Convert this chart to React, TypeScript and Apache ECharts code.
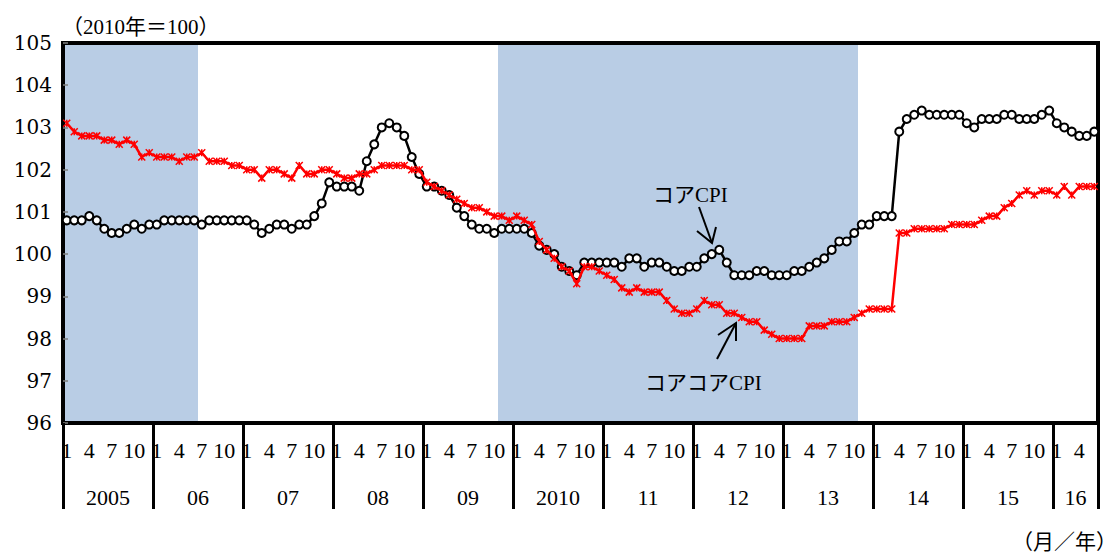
import React, { useEffect, useRef } from "react";
import * as echarts from "echarts";

// ---- data (monthly, Jan 2005 – Jun 2016, 2010 = 100) ----
const startYear = 2005;
const coreCPI: number[] = [
  100.8, 100.8, 100.8, 100.9, 100.8, 100.6, 100.5, 100.5, 100.6, 100.7, 100.6, 100.7,
  100.7, 100.8, 100.8, 100.8, 100.8, 100.8, 100.7, 100.8, 100.8, 100.8, 100.8, 100.8,
  100.8, 100.7, 100.5, 100.6, 100.7, 100.7, 100.6, 100.7, 100.7, 100.9, 101.2, 101.7,
  101.6, 101.6, 101.6, 101.5, 102.2, 102.6, 103.0, 103.1, 103.0, 102.8, 102.3, 101.9,
  101.6, 101.6, 101.5, 101.4, 101.1, 100.9, 100.7, 100.6, 100.6, 100.5, 100.6, 100.6,
  100.6, 100.6, 100.5, 100.2, 100.1, 100.0, 99.7, 99.6, 99.5, 99.8, 99.8, 99.8,
  99.8, 99.8, 99.7, 99.9, 99.9, 99.7, 99.8, 99.8, 99.7, 99.6, 99.6, 99.7,
  99.7, 99.9, 100.0, 100.1, 99.8, 99.5, 99.5, 99.5, 99.6, 99.6, 99.5, 99.5,
  99.5, 99.6, 99.6, 99.7, 99.8, 99.9, 100.1, 100.3, 100.3, 100.5, 100.7, 100.7,
  100.9, 100.9, 100.9, 102.9, 103.2, 103.3, 103.4, 103.3, 103.3, 103.3, 103.3, 103.3,
  103.1, 103.0, 103.2, 103.2, 103.2, 103.3, 103.3, 103.2, 103.2, 103.2, 103.3, 103.4,
  103.1, 103.0, 102.9, 102.8, 102.8, 102.9,
];
const coreCoreCPI: number[] = [
  103.1, 102.9, 102.8, 102.8, 102.8, 102.7, 102.7, 102.6, 102.7, 102.6, 102.3, 102.4,
  102.3, 102.3, 102.3, 102.2, 102.3, 102.3, 102.4, 102.2, 102.2, 102.2, 102.1, 102.1,
  102.0, 102.0, 101.8, 102.0, 102.0, 101.9, 101.8, 102.1, 101.9, 101.9, 102.0, 102.0,
  101.9, 101.8, 101.8, 101.9, 101.9, 102.0, 102.1, 102.1, 102.1, 102.1, 102.0, 102.0,
  101.7, 101.6, 101.5, 101.4, 101.3, 101.2, 101.1, 101.1, 101.0, 100.9, 100.9, 100.8,
  100.9, 100.8, 100.7, 100.3, 100.1, 99.9, 99.7, 99.6, 99.3, 99.7, 99.7, 99.6,
  99.5, 99.4, 99.2, 99.1, 99.2, 99.1, 99.1, 99.1, 98.9, 98.7, 98.6, 98.6,
  98.7, 98.9, 98.8, 98.8, 98.6, 98.6, 98.5, 98.4, 98.4, 98.2, 98.1, 98.0,
  98.0, 98.0, 98.0, 98.3, 98.3, 98.3, 98.4, 98.4, 98.4, 98.5, 98.6, 98.7,
  98.7, 98.7, 98.7, 100.5, 100.5, 100.6, 100.6, 100.6, 100.6, 100.6, 100.7, 100.7,
  100.7, 100.7, 100.8, 100.9, 100.9, 101.1, 101.2, 101.4, 101.5, 101.4, 101.5, 101.5,
  101.4, 101.6, 101.4, 101.6, 101.6, 101.6,
];
const yearLabels: string[] = ["2005", "06", "07", "08", "09", "2010", "11", "12", "13", "14", "15", "16"];
const monthTickLabels: number[] = [1, 4, 7, 10];
const shadedPeriods: [string, string][] = [
  ["2005-01", "2006-06"],
  ["2009-11", "2013-10"],
];
const yTicks = { min: 96, max: 105, step: 1 };

const N = coreCPI.length;
const months: string[] = Array.from({ length: N }, (_, i) => {
  const y = startYear + Math.floor(i / 12);
  const m = (i % 12) + 1;
  return `${y}-${String(m).padStart(2, "0")}`;
});

const NUM_FONT = '"Liberation Serif", "Noto Sans CJK JP", serif';

export default function App() {
  const ref = useRef<HTMLDivElement>(null);
  useEffect(() => {
    if (!ref.current) return;
    const chart = echarts.init(ref.current, undefined, { renderer: "svg" });
    const shadeData = shadedPeriods.map(([a, b]) => [
      { xAxis: months.indexOf(a) },
      { xAxis: months.indexOf(b) + 1 },
    ]);
    const yearCenter = (k: number) => (12 * k + Math.min(12 * k + 12, N)) / 2;
    const option: any = {
      animation: false,
      backgroundColor: "#ffffff",
      grid: {
        left: 63,
        right: 21,
        top: 43,
        bottom: 130,
        show: true,
        borderColor: "#000",
        borderWidth: 4,
        backgroundColor: "transparent",
      },
      xAxis: [
        {
          type: "category",
          data: months,
          boundaryGap: true,
          position: "bottom",
          axisLine: { show: false },
          axisTick: { show: false },
          splitLine: { show: false },
          axisLabel: {
            interval: 0,
            margin: 16,
            color: "#000",
            fontFamily: NUM_FONT,
            fontSize: 22,
            formatter: (v: string) => {
              const m = parseInt(v.slice(5), 10);
              return monthTickLabels.includes(m) ? String(m) : "";
            },
          },
        },
        {
          type: "value",
          min: 0,
          max: N,
          interval: 12,
          position: "bottom",
          axisLine: { show: false },
          axisTick: { show: true, length: 86, lineStyle: { color: "#000", width: 3 } },
          axisLabel: { show: false },
          splitLine: { show: false },
        },
        {
          type: "value",
          min: 0,
          max: N,
          interval: 3,
          position: "bottom",
          axisLine: { show: false },
          axisTick: { show: false },
          splitLine: { show: false },
          axisLabel: {
            margin: 63,
            color: "#000",
            fontFamily: NUM_FONT,
            fontSize: 22,
            formatter: (v: number) => {
              for (let k = 0; k < yearLabels.length; k++) {
                if (Math.abs(yearCenter(k) - v) < 1e-6) return yearLabels[k];
              }
              return "";
            },
          },
        },
      ],
      yAxis: [
        {
          type: "value",
          min: yTicks.min,
          max: yTicks.max,
          interval: yTicks.step,
          axisLine: { show: false },
          axisTick: { show: true, inside: true, length: 5, lineStyle: { color: "#7f7f7f", width: 1.5 } },
          splitLine: { show: false },
          axisLabel: { margin: 11, color: "#000", fontFamily: '"DejaVu Serif", serif', fontSize: 20 },
        },
      ],
      series: [
        {
          type: "line",
          xAxisIndex: 1,
          yAxisIndex: 0,
          data: [],
          silent: true,
          z: -1,
          markArea: {
            silent: true,
            z: -1,
            itemStyle: { color: "#B9CDE5" },
            data: shadeData,
          },
        },
        {
          name: "コアCPI",
          type: "line",
          xAxisIndex: 0,
          data: coreCPI,
          symbol: "circle",
          symbolSize: 8,
          showAllSymbol: true,
          lineStyle: { color: "#000", width: 2.5 },
          itemStyle: { color: "#fff", borderColor: "#000", borderWidth: 2 },
          z: 3,
        },
        {
          name: "コアコアCPI",
          type: "line",
          xAxisIndex: 0,
          data: coreCoreCPI,
          symbol: "path://M0,0L10,10M10,0L0,10M5,0L5,10",
          symbolSize: 7,
          showAllSymbol: true,
          lineStyle: { color: "#ff0000", width: 2.5 },
          itemStyle: { color: "#ff0000", borderColor: "#ff0000", borderWidth: 1.5 },
          z: 4,
        },
      ],
      graphic: [
        {
          type: "text",
          x: 62,
          y: 27,
          style: { text: "（2010年＝100）", font: `21px ${NUM_FONT}`, fill: "#000", align: "left", verticalAlign: "middle" },
        },
        {
          type: "text",
          x: 1117,
          y: 542,
          style: { text: "（月／年）", font: `21px ${NUM_FONT}`, fill: "#000", align: "right", verticalAlign: "middle" },
        },
        {
          type: "text",
          x: 653,
          y: 195,
          z: 10,
          style: { text: "コアCPI", font: `21px ${NUM_FONT}`, fill: "#000", align: "left", verticalAlign: "middle" },
        },
        {
          type: "text",
          x: 645,
          y: 383,
          z: 10,
          style: { text: "コアコアCPI", font: `21px ${NUM_FONT}`, fill: "#000", align: "left", verticalAlign: "middle" },
        },
        { type: "line", z: 10, shape: { x1: 699, y1: 207, x2: 712, y2: 243 }, style: { stroke: "#000", lineWidth: 2 } },
        { type: "polyline", z: 10, shape: { points: [[697, 231], [712, 243], [716, 227]] }, style: { stroke: "#000", lineWidth: 2, fill: "none" } },
        { type: "line", z: 10, shape: { x1: 717, y1: 359, x2: 736, y2: 323 }, style: { stroke: "#000", lineWidth: 2 } },
        { type: "polyline", z: 10, shape: { points: [[718, 335], [736, 323], [736, 341]] }, style: { stroke: "#000", lineWidth: 2, fill: "none" } },
      ],
    };
    chart.setOption(option);
    return () => chart.dispose();
  }, []);
  return (
    <div
      ref={ref}
      style={{ position: "fixed", left: 0, top: 0, width: 1119, height: 553, background: "#fff" }}
    />
  );
}
